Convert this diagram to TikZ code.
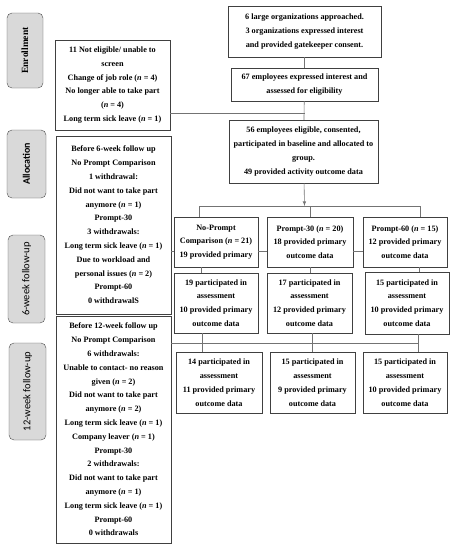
\documentclass[tikz,border=0pt]{standalone}
\usepackage{fontspec}
\setmainfont{Liberation Serif}
\newfontfamily\stagesans{Carlito}
\usetikzlibrary{positioning,calc,arrows}

\tikzset{
  flowbox/.style={draw=black!75, fill=white, align=center, inner sep=0pt,
    font=\fontsize{8.2}{13.8}\selectfont\bfseries},
  stagebox/.style={draw=black!70, fill=black!15, rounded corners=5pt, rotate=90,
    align=center, inner sep=0pt},
  link/.style={draw=black!55, line width=0.6pt}
}
\newcommand{\nn}[1]{(\textit{n} = #1)}

\begin{document}
\begin{tikzpicture}[x=1pt,y=-1pt]
      \useasboundingbox (0,0) rectangle (453,550);

      % stages
      \node[stagebox, minimum width=75, minimum height=36, font=\fontsize{9.5}{11}\selectfont\bfseries] (enr) at (25,50.5) {Enrollment};
      \node[stagebox, minimum width=68, minimum height=39, font=\stagesans\fontsize{10}{12}\selectfont\bfseries] (alc) at (26.5,164) {Allocation};
      \node[stagebox, minimum width=88, minimum height=37, font=\stagesans\fontsize{10.5}{12}\selectfont] (six) at (26.5,279) {6-week follow-up};
      \node[stagebox, minimum width=97, minimum height=37, font=\stagesans\fontsize{10.5}{12}\selectfont] (twelve) at (27.5,391.5) {12-week follow-up};

      % exclusions and withdrawals
      \node[flowbox, minimum width=115, minimum height=90] (excl) at (112.5,85)
        {11 Not eligible/ unable to\\ screen\\ Change of job role \nn{4}\\ No longer able to take part\\ \nn{4}\\ Long term sick leave \nn{1}};
      \node[flowbox, minimum width=115, minimum height=178] (wd6) at (113.5,225)
        {Before 6-week follow up\\ No Prompt Comparison\\ 1 withdrawal:\\ Did not want to take part\\ anymore \nn{1}\\ Prompt-30\\ 3 withdrawals:\\ Long term sick leave \nn{1}\\ Due to workload and\\ personal issues \nn{2}\\ Prompt-60\\ 0 withdrawalS};
      \node[flowbox, minimum width=115, minimum height=227] (wd12) at (113.5,429.5)
        {Before 12-week follow up\\ No Prompt Comparison\\ 6 withdrawals:\\ Unable to contact- no reason\\ given \nn{2}\\ Did not want to take part\\ anymore \nn{2}\\ Long term sick leave \nn{1}\\ Company leaver \nn{1}\\ Prompt-30\\ 2 withdrawals:\\ Did not want to take part\\ anymore \nn{1}\\ Long term sick leave \nn{1}\\ Prompt-60\\ 0 withdrawals};

      % main flow
      \node[flowbox, minimum width=153, minimum height=51] (orgs) at (304.5,31.5)
        {6 large organizations approached.\\ 3 organizations expressed interest\\ and provided gatekeeper consent.};
      \node[flowbox, minimum width=147, minimum height=33] (asd) at (304.5,84.5)
        {67 employees expressed interest and\\ assessed for eligibility};
      \node[flowbox, minimum width=149, minimum height=63] (elig) at (303.5,151.5)
        {56 employees eligible, consented,\\ participated in baseline and allocated to\\ group.\\ 49 provided activity outcome data};

      % groups
      \node[flowbox, minimum width=84, minimum height=50] (np) at (216,242)
        {No-Prompt\\ Comparison \nn{21}\\ 19 provided primary};
      \node[flowbox, minimum width=86, minimum height=50] (pa) at (310,242)
        {Prompt-30 \nn{20}\\ 18 provided primary\\ outcome data};
      \node[flowbox, minimum width=84, minimum height=50] (pb) at (405,242)
        {Prompt-60 \nn{15}\\ 12 provided primary\\ outcome data};

      \node[flowbox, minimum width=84, minimum height=60] (npsix) at (216,303)
        {19 participated in\\ assessment\\ 10 provided primary\\ outcome data};
      \node[flowbox, minimum width=85, minimum height=60] (pasix) at (309.5,303)
        {17 participated in\\ assessment\\ 12 provided primary\\ outcome data};
      \node[flowbox, minimum width=84, minimum height=62] (pbsix) at (407,303)
        {15 participated in\\ assessment\\ 10 provided primary\\ outcome data};

      \node[flowbox, minimum width=86, minimum height=61] (nptw) at (219,382.5)
        {14 participated in\\ assessment\\ 11 provided primary\\ outcome data};
      \node[flowbox, minimum width=85, minimum height=61] (patw) at (312.5,382.5)
        {15 participated in\\ assessment\\ 9 provided primary\\ outcome data};
      \node[flowbox, minimum width=84, minimum height=61] (pbtw) at (405,382.5)
        {15 participated in\\ assessment\\ 10 provided primary\\ outcome data};

      % connectors
      \coordinate (exj) at (304.5,113);
      \coordinate (split) at (304.5,206);
      \coordinate (sl) at (199,206);
      \coordinate (sm) at (310,206);
      \coordinate (sr) at (420,206);
      \coordinate (six6) at (0,251);
      \coordinate (tw12) at (418,343);
      \coordinate (ca) at (201,0);
      \coordinate (cb) at (310,0);
      \coordinate (cc) at (419,0);
      \coordinate (da) at (202,0);
      \coordinate (db) at (312,0);
      \coordinate (dc) at (418,0);

      \draw[link] (orgs) -- (asd);
      \draw[link] (asd) -- (elig);
      \draw[link] (excl.east |- exj) -- (exj);
      \draw[link,-latex] (elig) -- (split);
      \draw[link] (sl) -- (sr);
      \draw[link] (sl) -- (sl |- np.north);
      \draw[link] (sm) -- (sm |- pa.north);
      \draw[link] (sr) -- (sr |- pb.north);

      \draw[link] (wd6.east |- six6) -- (np.west |- six6);
      \draw[link] (np.east |- six6) -- (pa.west |- six6);
      \draw[link] (pa.east |- six6) -- (pb.west |- six6);

      \draw[link] (ca |- np.south) -- (ca |- npsix.north);
      \draw[link] (cb |- pa.south) -- (cb |- pasix.north);
      \draw[link] (cc |- pb.south) -- (cc |- pbsix.north);

      \draw[link] (wd12.east |- tw12) -- (tw12);
      \draw[link] (da |- npsix.south) -- (da |- nptw.north);
      \draw[link] (db |- pasix.south) -- (db |- patw.north);
      \draw[link] (dc |- pbsix.south) -- (dc |- pbtw.north);
\end{tikzpicture}
\end{document}
